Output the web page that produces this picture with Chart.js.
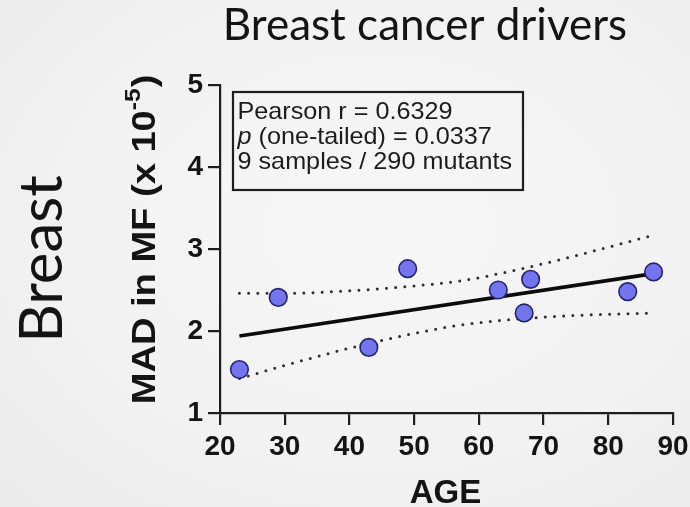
<!DOCTYPE html>
<html>
<head>
<meta charset="utf-8">
<script src="https://cdn.jsdelivr.net/npm/chart.js@4"></script>
<style>
  html, body { margin: 0; padding: 0; }
  body {
    width: 690px; height: 507px; overflow: hidden;
    background: radial-gradient(ellipse at 55% 45%, #f7f7f7 0%, #f2f2f2 60%, #eaeaea 100%);
  }
  canvas { display: block; }
</style>
</head>
<body>
<canvas id="c" width="690" height="507"></canvas>
<script>
// Per-sample values: patient age and MAD of mutant frequency (x 10^-5)
const ages = [23, 29, 43, 49, 63, 68, 67, 83, 87];
const madValues = [1.53, 2.41, 1.80, 2.76, 2.50, 2.63, 2.22, 2.48, 2.72];

// Linear fit end points
const fitAges = [23, 87];
const fitValues = [1.94, 2.70];

// 95% confidence band of the fit
const bandAges = [23, 30, 40, 50, 57, 65, 75, 87];
const bandUpper = [2.46, 2.46, 2.49, 2.55, 2.61, 2.73, 2.92, 3.17];
const bandLower = [1.42, 1.58, 1.79, 1.97, 2.07, 2.14, 2.19, 2.22];

// Axis ticks
const xTicks = [20, 30, 40, 50, 60, 70, 80, 90];
const yTicks = [1, 2, 3, 4, 5];

// Text
const chartTitle = 'Breast cancer drivers';
const tissueLabel = 'Breast';
const xTitle = 'AGE';
const statR = 'Pearson r = 0.6329';
const statP = ' (one-tailed) = 0.0337';
const statN = '9 samples / 290 mutants';

const toXY = (xs, ys) => xs.map((x, i) => ({ x, y: ys[i] }));

const INK = '#141414';
const SANS = '"Liberation Sans", Arial, sans-serif';

const annotations = {
  id: 'annotations',
  afterDraw(chart) {
    const ctx = chart.ctx;
    const a = chart.chartArea;
    ctx.save();
    ctx.fillStyle = INK;

    // Title
    ctx.font = '44px Lato';
    ctx.textAlign = 'center';
    ctx.textBaseline = 'alphabetic';
    ctx.fillText(chartTitle, 425, 40);

    // Tissue label, rotated
    ctx.save();
    ctx.translate(62, 259);
    ctx.rotate(-Math.PI / 2);
    ctx.font = '60px Lato';
    ctx.fillText(tissueLabel, 0, 0);
    ctx.restore();

    // Y axis title with superscript exponent
    ctx.save();
    ctx.translate(155, (a.top + a.bottom) / 2 - 9);
    ctx.rotate(-Math.PI / 2);
    ctx.scale(1.12, 1);
    ctx.textAlign = 'left';
    const mainFont = 'bold 34px ' + SANS;
    const supFont = 'bold 22px ' + SANS;
    const p1 = 'MAD in MF (x 10', p2 = '-5', p3 = ')';
    ctx.font = mainFont; const w1 = ctx.measureText(p1).width; const w3 = ctx.measureText(p3).width;
    ctx.font = supFont; const w2 = ctx.measureText(p2).width;
    const x0 = -(w1 + w2 + w3) / 2;
    ctx.font = mainFont; ctx.fillText(p1, x0, 0);
    ctx.font = supFont; ctx.fillText(p2, x0 + w1, -15);
    ctx.font = mainFont; ctx.fillText(p3, x0 + w1 + w2 + 1, 0);
    ctx.restore();

    // X axis title
    ctx.font = 'bold 33px ' + SANS;
    ctx.textAlign = 'center';
    ctx.fillText(xTitle, (a.left + a.right) / 2 - 1, 503);

    // Statistics box
    const bx = a.left + 13, by = a.top + 7, bw = 290, bh = 98;
    ctx.strokeStyle = '#1e1e1e';
    ctx.lineWidth = 2.2;
    ctx.strokeRect(bx, by, bw, bh);
    ctx.fillStyle = '#1c1c1c';
    ctx.textAlign = 'left';
    ctx.save();
    ctx.translate(bx + 4.5, 0);
    ctx.scale(1.05, 1);
    ctx.font = '24px ' + SANS;
    ctx.fillText(statR, 0, by + 27);
    ctx.font = 'italic 24px ' + SANS;
    ctx.fillText('p', 0, by + 52);
    const pw = ctx.measureText('p').width;
    ctx.font = '24px ' + SANS;
    ctx.fillText(statP, pw, by + 52);
    ctx.fillText(statN, 0, by + 77);
    ctx.restore();

    ctx.restore();
  }
};

const axisLine = { display: true, color: '#1e1e1e', width: 2.2 };
const tickMarks = { drawOnChartArea: false, drawTicks: true, tickLength: 12, color: '#1e1e1e', lineWidth: 2.2 };
const tickFont = { family: SANS, size: 28, weight: 'bold', lineHeight: 1.1 };

new Chart(document.getElementById('c'), {
  type: 'scatter',
  data: {
    datasets: [
      {
        label: 'Samples',
        data: toXY(ages, madValues),
        order: 0,
        pointRadius: 8.8,
        pointBackgroundColor: '#7474ee',
        pointBorderColor: '#24246e',
        pointBorderWidth: 1.6,
        showLine: false
      },
      {
        label: 'Fit',
        type: 'line',
        data: toXY(fitAges, fitValues),
        order: 1,
        borderColor: '#0c0c0c',
        borderWidth: 3.6,
        pointRadius: 0
      },
      {
        label: 'Upper 95% CI',
        type: 'line',
        data: toXY(bandAges, bandUpper),
        order: 2,
        borderColor: '#2e2e2e',
        borderWidth: 3,
        borderDash: [0, 9.2],
        borderCapStyle: 'round',
        cubicInterpolationMode: 'monotone',
        pointRadius: 0
      },
      {
        label: 'Lower 95% CI',
        type: 'line',
        data: toXY(bandAges, bandLower),
        order: 2,
        borderColor: '#2e2e2e',
        borderWidth: 3,
        borderDash: [0, 9.2],
        borderCapStyle: 'round',
        cubicInterpolationMode: 'monotone',
        pointRadius: 0
      }
    ]
  },
  options: {
    responsive: false,
    animation: false,
    devicePixelRatio: 1,
    layout: { padding: { left: 0, top: 85, right: 17, bottom: 0 } },
    plugins: { legend: { display: false }, tooltip: { enabled: false }, title: { display: false } },
    scales: {
      x: {
        type: 'linear',
        min: 20, max: 90,
        afterBuildTicks: s => { s.ticks = xTicks.map(v => ({ value: v })); },
        afterFit: s => { s.height = 94; s.paddingLeft = 0; s.paddingRight = 0; },
        border: axisLine,
        grid: tickMarks,
        ticks: { color: INK, padding: 7, font: tickFont }
      },
      y: {
        type: 'linear',
        min: 1, max: 5,
        afterBuildTicks: s => { s.ticks = yTicks.map(v => ({ value: v })); },
        afterFit: s => { s.width = 220; s.paddingTop = 0; s.paddingBottom = 0; },
        border: axisLine,
        grid: tickMarks,
        ticks: { color: INK, padding: 5, font: tickFont }
      }
    }
  },
  plugins: [annotations]
});
</script>
</body>
</html>
